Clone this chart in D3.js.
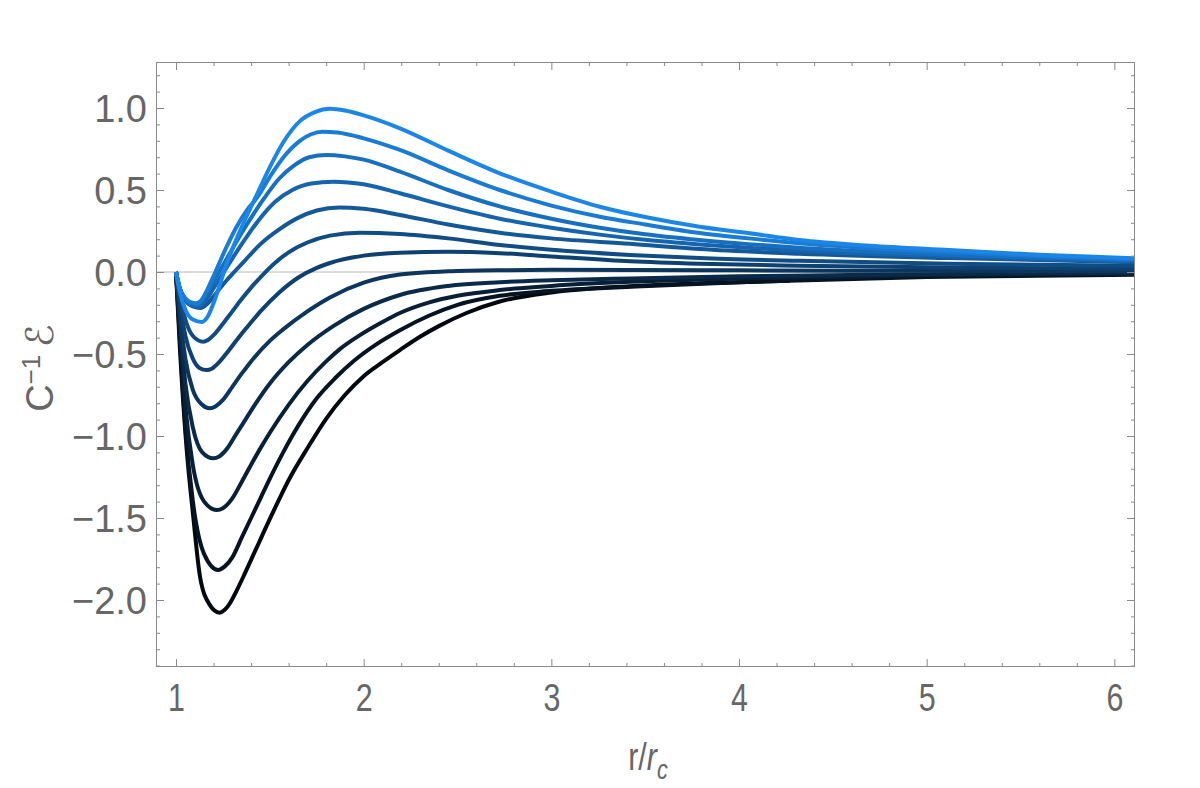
<!DOCTYPE html>
<html>
<head>
<meta charset="utf-8">
<script src="https://cdn.jsdelivr.net/npm/d3@7"></script>
<style>
  html, body { margin: 0; padding: 0; background: #fff; }
  svg { display: block; }
</style>
</head>
<body>
<svg id="chart" width="1200" height="788"></svg>
<script>
// ---- data ----
const xTicks = [1, 2, 3, 4, 5, 6];
const yTicks = [-2.0, -1.5, -1.0, -0.5, 0.0, 0.5, 1.0];

// curves, brightest (highest peak) first: [r/rc, C^-1 E]
const curve1 = [[1,0],[1.02,-0.12],[1.05,-0.23],[1.09,-0.29],[1.137,-0.305],[1.17,-0.27],[1.2,-0.19],[1.23,-0.09],[1.255,0],[1.3,0.14],[1.36,0.3],[1.43,0.47],[1.5,0.64],[1.571,0.79],[1.66,0.92],[1.74,0.975],[1.82,0.995],[1.9,0.985],[2.0,0.955],[2.193,0.876],[2.45,0.74],[2.725,0.602],[3.0,0.49],[3.258,0.398],[3.5,0.335],[3.79,0.276],[4.056,0.236],[4.32,0.195],[4.7,0.16],[5.12,0.134],[5.6,0.105],[6.11,0.084]];
const curve2 = [[1,0],[1.02,-0.1],[1.05,-0.16],[1.08,-0.185],[1.11,-0.19],[1.14,-0.165],[1.17,-0.1],[1.21,0],[1.26,0.13],[1.32,0.27],[1.38,0.38],[1.43,0.45],[1.5,0.58],[1.58,0.71],[1.66,0.8],[1.72,0.84],[1.78,0.855],[1.86,0.85],[2.0,0.815],[2.193,0.744],[2.45,0.62],[2.725,0.5],[3.0,0.405],[3.258,0.337],[3.5,0.29],[3.79,0.238],[4.05,0.205],[4.32,0.175],[4.7,0.145],[5.12,0.12],[5.6,0.097],[6.11,0.078]];
const curve3 = [[1,0],[1.02,-0.1],[1.05,-0.165],[1.08,-0.195],[1.11,-0.2],[1.14,-0.175],[1.18,-0.1],[1.23,0],[1.28,0.1],[1.34,0.22],[1.4,0.33],[1.47,0.45],[1.55,0.57],[1.63,0.65],[1.71,0.7],[1.8,0.713],[1.9,0.705],[2.0,0.685],[2.193,0.612],[2.45,0.5],[2.725,0.4],[3.0,0.325],[3.258,0.27],[3.5,0.23],[3.79,0.195],[4.05,0.17],[4.32,0.148],[4.7,0.125],[5.12,0.105],[5.6,0.087],[6.11,0.072]];
const curve4 = [[1,0],[1.02,-0.1],[1.05,-0.17],[1.085,-0.205],[1.12,-0.21],[1.15,-0.185],[1.2,-0.1],[1.255,0],[1.31,0.1],[1.38,0.22],[1.45,0.33],[1.53,0.43],[1.62,0.5],[1.72,0.54],[1.84,0.551],[2.0,0.535],[2.193,0.48],[2.45,0.4],[2.725,0.325],[3.0,0.27],[3.258,0.228],[3.5,0.196],[3.79,0.168],[4.05,0.148],[4.32,0.13],[4.7,0.11],[5.12,0.094],[5.6,0.078],[6.11,0.066]];
const curve5 = [[1,0],[1.02,-0.1],[1.05,-0.175],[1.09,-0.21],[1.13,-0.22],[1.17,-0.19],[1.22,-0.12],[1.27,-0.05],[1.31,0],[1.367,0.07],[1.45,0.17],[1.55,0.26],[1.65,0.33],[1.75,0.375],[1.87,0.394],[2.0,0.385],[2.193,0.348],[2.45,0.29],[2.725,0.24],[3.0,0.205],[3.42,0.172],[3.79,0.14],[4.32,0.112],[5.12,0.085],[6.11,0.06]];
const curve6 = [[1,0],[1.02,-0.14],[1.05,-0.29],[1.09,-0.39],[1.145,-0.425],[1.17,-0.415],[1.2,-0.385],[1.25,-0.315],[1.3,-0.24],[1.35,-0.165],[1.4,-0.095],[1.46,-0.02],[1.527,0.055],[1.6,0.12],[1.7,0.18],[1.82,0.222],[1.98,0.24],[2.193,0.232],[2.45,0.205],[2.725,0.165],[3.0,0.135],[3.42,0.104],[3.79,0.085],[4.32,0.068],[5.12,0.05],[6.11,0.038]];
const curve7 = [[1,0],[1.02,-0.18],[1.05,-0.39],[1.09,-0.53],[1.125,-0.585],[1.163,-0.598],[1.19,-0.59],[1.23,-0.55],[1.28,-0.48],[1.33,-0.405],[1.376,-0.34],[1.45,-0.24],[1.55,-0.125],[1.65,-0.035],[1.75,0.025],[1.82,0.055],[2.0,0.1],[2.193,0.118],[2.45,0.124],[2.725,0.115],[3.0,0.095],[3.42,0.065],[3.79,0.05],[4.32,0.038],[5.12,0.027],[6.11,0.02]];
const curve8 = [[1,0],[1.02,-0.25],[1.05,-0.53],[1.09,-0.72],[1.135,-0.805],[1.181,-0.831],[1.21,-0.82],[1.25,-0.78],[1.3,-0.7],[1.35,-0.62],[1.4,-0.545],[1.5,-0.42],[1.571,-0.35],[1.7,-0.24],[1.82,-0.155],[2.0,-0.065],[2.193,-0.015],[2.45,0.004],[2.725,0.011],[3.0,0.013],[3.42,0.012],[4.0,0.01],[5.0,0.007],[6.11,0.004]];
const curve9 = [[1,0],[1.02,-0.3],[1.05,-0.68],[1.09,-0.95],[1.14,-1.1],[1.199,-1.136],[1.23,-1.125],[1.27,-1.08],[1.32,-0.99],[1.37,-0.9],[1.42,-0.81],[1.5,-0.68],[1.6,-0.55],[1.7,-0.445],[1.838,-0.33],[2.0,-0.225],[2.193,-0.14],[2.45,-0.085],[2.725,-0.062],[3.0,-0.05],[3.42,-0.039],[4.0,-0.026],[5.0,-0.013],[6.11,-0.005]];
const curve10 = [[1,0],[1.02,-0.35],[1.05,-0.82],[1.09,-1.18],[1.15,-1.4],[1.217,-1.451],[1.25,-1.44],[1.3,-1.38],[1.35,-1.28],[1.4,-1.175],[1.447,-1.08],[1.5,-0.98],[1.6,-0.81],[1.7,-0.665],[1.8,-0.545],[1.873,-0.47],[1.98,-0.385],[2.1,-0.305],[2.193,-0.25],[2.35,-0.185],[2.5,-0.145],[2.725,-0.11],[3.0,-0.085],[3.42,-0.06],[4.0,-0.04],[5.0,-0.02],[6.11,-0.01]];
const curve11 = [[1,0],[1.02,-0.4],[1.05,-0.95],[1.09,-1.4],[1.15,-1.72],[1.225,-1.817],[1.26,-1.795],[1.3,-1.74],[1.35,-1.62],[1.4,-1.5],[1.45,-1.38],[1.5,-1.26],[1.571,-1.1],[1.65,-0.94],[1.75,-0.77],[1.85,-0.645],[1.95,-0.54],[2.069,-0.44],[2.193,-0.355],[2.35,-0.265],[2.5,-0.2],[2.725,-0.145],[3.0,-0.115],[3.42,-0.09],[4.0,-0.062],[5.0,-0.03],[6.11,-0.016]];
const curve12 = [[1,0],[1.02,-0.45],[1.057,-1.085],[1.092,-1.492],[1.128,-1.858],[1.18,-2.03],[1.231,-2.077],[1.26,-2.06],[1.29,-2.015],[1.32,-1.95],[1.36,-1.855],[1.4,-1.755],[1.45,-1.63],[1.5,-1.505],[1.55,-1.385],[1.6,-1.27],[1.7,-1.075],[1.8,-0.895],[1.9,-0.75],[2.0,-0.635],[2.1,-0.55],[2.193,-0.476],[2.3,-0.395],[2.4,-0.33],[2.548,-0.25],[2.725,-0.18],[3.0,-0.125],[3.25,-0.098],[3.5,-0.082],[4.0,-0.062],[4.27,-0.053]];

const curves = [curve1, curve2, curve3, curve4, curve5, curve6, curve7, curve8, curve9, curve10, curve11, curve12];

// ---- layout ----
const frame = { left: 156, right: 1135, top: 62, bottom: 667 };
const svg = d3.select("#chart");

const x = d3.scaleLinear().domain([0.8934, 6.11]).range([frame.left, frame.right]);
const y = d3.scaleLinear().domain([-2.4085, 1.2805]).range([frame.bottom, frame.top]);

const textColor = "#666666";
const tickColor = "#8a8a8a";

svg.append("defs").append("clipPath").attr("id", "clip")
  .append("rect").attr("x", frame.left).attr("y", frame.top)
  .attr("width", frame.right - frame.left).attr("height", frame.bottom - frame.top);

// zero axis line
svg.append("line")
  .attr("x1", frame.left).attr("x2", frame.right)
  .attr("y1", y(0)).attr("y2", y(0))
  .attr("stroke", "#b8b8b8").attr("stroke-width", 1);

// curves
const startC = d3.rgb(3, 8, 14), endC = d3.rgb(28, 134, 232);
const colorOf = d3.interpolateRgb(startC, endC);
const line = d3.line().x(d => x(d[0])).y(d => y(d[1])).curve(d3.curveMonotoneX);
const g = svg.append("g").attr("clip-path", "url(#clip)");
for (let i = curves.length - 1; i >= 0; i--) {
  const t = 1 - i / (curves.length - 1);
  g.append("path")
    .attr("d", line(curves[i]))
    .attr("fill", "none")
    .attr("stroke", colorOf(t))
    .attr("stroke-width", 4)
    .attr("stroke-linejoin", "round")
    .attr("stroke-linecap", "butt");
}

// frame
svg.append("rect")
  .attr("x", frame.left + 0.5).attr("y", frame.top + 0.5)
  .attr("width", frame.right - frame.left - 1).attr("height", frame.bottom - frame.top - 1)
  .attr("fill", "none").attr("stroke", tickColor).attr("stroke-width", 1);

// ticks (inward, on all four sides)
const xMinor = d3.range(10, 61, 2).map(v => v / 10).filter(v => !xTicks.includes(v));
const yMinor = d3.range(-24, 13, 1).map(v => v / 10).filter(v => Math.abs(v * 2 - Math.round(v * 2)) > 1e-6);

function styleAxis(sel) {
  sel.select(".domain").remove();
  sel.selectAll(".tick line").attr("stroke", tickColor).attr("stroke-width", 1);
}

// bottom
svg.append("g").attr("transform", `translate(0,${frame.bottom})`)
  .call(d3.axisBottom(x).tickValues(xMinor).tickSize(-4).tickFormat(""))
  .call(styleAxis);
const xb = svg.append("g").attr("transform", `translate(0,${frame.bottom})`)
  .call(d3.axisBottom(x).tickValues(xTicks).tickSize(-8).tickPadding(0).tickFormat(d3.format("d")))
  .call(styleAxis);
xb.selectAll(".tick text")
  .attr("y", 44).attr("dy", 0)
  .attr("transform", "scale(0.8,1)")
  .attr("fill", textColor)
  .style("font-family", "'Liberation Sans', Arial, sans-serif")
  .style("font-size", "38px");

// top
svg.append("g").attr("transform", `translate(0,${frame.top})`)
  .call(d3.axisTop(x).tickValues(xMinor).tickSize(-4).tickFormat(""))
  .call(styleAxis);
svg.append("g").attr("transform", `translate(0,${frame.top})`)
  .call(d3.axisTop(x).tickValues(xTicks).tickSize(-8).tickFormat(""))
  .call(styleAxis);

// left
svg.append("g").attr("transform", `translate(${frame.left},0)`)
  .call(d3.axisLeft(y).tickValues(yMinor).tickSize(-4).tickFormat(""))
  .call(styleAxis);
const yl = svg.append("g").attr("transform", `translate(${frame.left},0)`)
  .call(d3.axisLeft(y).tickValues(yTicks).tickSize(-8).tickPadding(9)
    .tickFormat(d => (d < 0 ? "\u2212" : "") + Math.abs(d).toFixed(1)))
  .call(styleAxis);
yl.selectAll(".tick text")
  .attr("fill", textColor)
  .attr("dy", "0.36em")
  .style("font-family", "'Liberation Sans', Arial, sans-serif")
  .style("font-size", "38px");

// right
svg.append("g").attr("transform", `translate(${frame.right},0)`)
  .call(d3.axisRight(y).tickValues(yMinor).tickSize(-4).tickFormat(""))
  .call(styleAxis);
svg.append("g").attr("transform", `translate(${frame.right},0)`)
  .call(d3.axisRight(y).tickValues(yTicks).tickSize(-8).tickFormat(""))
  .call(styleAxis);

// x axis title  r/r_c
const xt = svg.append("text")
  .attr("transform", `translate(648,770) scale(0.8,1)`)
  .attr("text-anchor", "middle")
  .attr("fill", textColor)
  .style("font-family", "'Liberation Sans', Arial, sans-serif")
  .style("font-size", "38px");
xt.append("tspan").text("r/");
xt.append("tspan").style("font-style", "italic").text("r");
xt.append("tspan").attr("dy", 9).style("font-style", "italic").style("font-size", "27px").text("c");

// y axis title  C^-1 ℰ
const yt = svg.append("text")
  .attr("transform", `translate(53,368) rotate(-90)`)
  .attr("text-anchor", "middle")
  .attr("fill", textColor)
  .style("font-family", "'Liberation Sans', Arial, sans-serif")
  .style("font-size", "38px");
yt.append("tspan").text("C");
yt.append("tspan").attr("dy", -13).style("font-size", "26px").text("\u22121");
yt.append("tspan").attr("dy", 13).text("\u2009");
yt.append("tspan").style("font-family", "'DejaVu Serif', 'DejaVu Sans', serif").style("font-style", "italic").text("\u2130");
</script>
</body>
</html>
